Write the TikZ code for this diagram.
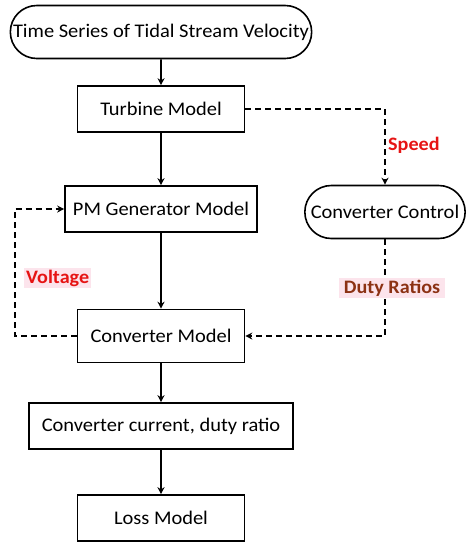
\documentclass[tikz,border=0pt]{standalone}
\usepackage{fontspec}
\setmainfont{Carlito}[FakeStretch=1.06]
\usetikzlibrary{shapes.misc, arrows.meta, positioning, calc}
\definecolor{labelred}{RGB}{230, 20, 20}
\definecolor{labelbrown}{RGB}{140, 50, 20}
\definecolor{labelpink}{RGB}{252, 228, 236}

\begin{document}
\begin{tikzpicture}[
            x=1pt, y=-1pt,
            modelbox/.style={draw=black, line width=1.6pt, minimum width=167pt, minimum height=46pt, align=center, font=\fontsize{19.3}{21}\selectfont},
            termbox/.style={draw=black, line width=1.6pt, rounded rectangle, minimum height=53pt, align=center, font=\fontsize{19.3}{21}\selectfont},
            arrow/.style={-{Stealth[length=7pt, width=7pt]}, line width=1.6pt},
            dasharrow/.style={-{Stealth[length=7pt, width=7pt]}, line width=1.6pt, dash pattern=on 6pt off 4pt},
            sig/.style={font=\bfseries\fontsize{19}{21}\selectfont, inner sep=2pt}
        ]
            \useasboundingbox (0,0) rectangle (473,550);

            \node[termbox, minimum width=308pt] (series) at (161,32) {Time Series of Tidal Stream Velocity};
            \node[modelbox] (turbine) at (161,109) {Turbine Model};
            \node[modelbox, minimum width=192pt] (pmgen) at (161,209) {PM Generator Model};
            \node[termbox, minimum width=167pt] (control) at (385,212) {Converter Control};
            \node[modelbox, minimum height=53pt] (convmodel) at (161,336) {Converter Model};
            \node[modelbox, minimum width=264pt] (current) at (161,426) {Converter current, duty ratio};
            \node[modelbox] (loss) at (161,518) {Loss Model};

            \draw[arrow] (series) -- (turbine);
            \draw[arrow] (turbine) -- (pmgen);
            \draw[arrow] (pmgen) -- (convmodel);
            \draw[arrow] (convmodel) -- (current);
            \draw[arrow] (current) -- (loss);

            \draw[dasharrow] (turbine.east) -| (control.north);
            \draw[dasharrow] (control.south) |- (convmodel.east);
            \draw[dasharrow] (convmodel.west) -- ++(-62,0) |- (pmgen.west);

            \node[sig, text=labelred, anchor=west] (speed) at (386,145) {Speed};
            \node[sig, text=labelred, fill=labelpink, anchor=west] (voltage) at (24,278) {Voltage};
            \node[sig, text=labelbrown, fill=labelpink, inner xsep=5pt] (duty) at (392,288) {Duty Ratios};
        \end{tikzpicture}
\end{document}
